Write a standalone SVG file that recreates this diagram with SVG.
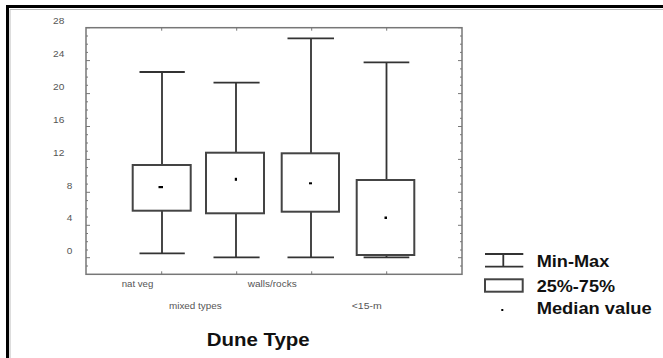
<svg xmlns="http://www.w3.org/2000/svg" width="663" height="358" viewBox="0 0 663 358">
<defs>
<style>
.frame{fill:none;stroke:#000;stroke-width:3}
.frame2{fill:none;stroke:#bbb;stroke-width:1}
.plot{fill:none;stroke:#777;stroke-width:1.5}
.tick{stroke:#777;stroke-width:1}
.box{fill:#fff;stroke:#444;stroke-width:2}
.wh{stroke:#333;stroke-width:1.8;fill:none}
.med{fill:#000}
.ylab{font-family:"Liberation Sans",Arial,sans-serif;font-size:9px;fill:#555}
.xlab{font-family:"Liberation Sans",Arial,sans-serif;font-size:8.8px;fill:#555}
.title{font-family:"Liberation Sans",Arial,sans-serif;font-size:18px;font-weight:bold;fill:#111}
.leg{font-family:"Liberation Sans",Arial,sans-serif;font-size:16.3px;font-weight:bold;fill:#111}
</style>
</defs>
<rect width="663" height="358" fill="#fff"/>
<g id="frame">
<polyline class="frame2" points="10,358 10,9.5 663,9.5"/>
<polyline class="frame" points="7.5,358 7.5,6.5 663,6.5"/>
</g>
<g id="plot-area">
<rect class="plot" x="86" y="27.7" width="376" height="246.6"/>
<g id="ticks">
<path class="tick" d="M86,27.7h4M86,36h2M86,44.2h2M86,52.4h2M86,60.6h4M86,68.9h2M86,77.1h2M86,85.3h2M86,93.6h4M86,101.8h2M86,110h2M86,118.3h2M86,126.5h4M86,134.7h2M86,143h2M86,151.2h2M86,159.4h4M86,167.6h2M86,175.9h2M86,184.1h2M86,192.3h4M86,200.6h2M86,208.8h2M86,217h2M86,225.3h4M86,233.5h2M86,241.7h2M86,250h2M86,257.7h4M86,266h2"/>
<path class="tick" d="M462,27.7h-4M462,36h-2M462,44.2h-2M462,52.4h-2M462,60.6h-4M462,68.9h-2M462,77.1h-2M462,85.3h-2M462,93.6h-4M462,101.8h-2M462,110h-2M462,118.3h-2M462,126.5h-4M462,134.7h-2M462,143h-2M462,151.2h-2M462,159.4h-4M462,167.6h-2M462,175.9h-2M462,184.1h-2M462,192.3h-4M462,200.6h-2M462,208.8h-2M462,217h-2M462,225.3h-4M462,233.5h-2M462,241.7h-2M462,250h-2M462,257.7h-4M462,266h-2"/>
<path class="tick" d="M161.7,27.7v3M236.7,27.7v3M311.7,27.7v3M386.7,27.7v3M161.7,274.3v-3M236.7,274.3v-3M311.7,274.3v-3M386.7,274.3v-3"/>
</g>
<g id="y-labels">
<text class="ylab" x="53" y="24" textLength="11.3" lengthAdjust="spacingAndGlyphs">28</text>
<text class="ylab" x="53" y="57.3" textLength="11.3" lengthAdjust="spacingAndGlyphs">24</text>
<text class="ylab" x="53" y="90.3" textLength="11.3" lengthAdjust="spacingAndGlyphs">20</text>
<text class="ylab" x="53" y="123.3" textLength="11.3" lengthAdjust="spacingAndGlyphs">16</text>
<text class="ylab" x="53" y="156.3" textLength="11.3" lengthAdjust="spacingAndGlyphs">12</text>
<text class="ylab" x="66.7" y="188.5" textLength="5.6" lengthAdjust="spacingAndGlyphs">8</text>
<text class="ylab" x="66.7" y="221.3" textLength="5.6" lengthAdjust="spacingAndGlyphs">4</text>
<text class="ylab" x="66.7" y="254" textLength="5.6" lengthAdjust="spacingAndGlyphs">0</text>
</g>
<g id="x-labels">
<text class="xlab" x="121.7" y="287" textLength="31.6" lengthAdjust="spacingAndGlyphs">nat veg</text>
<text class="xlab" x="247.7" y="287" textLength="49" lengthAdjust="spacingAndGlyphs">walls/rocks</text>
<text class="xlab" x="169" y="308.5" textLength="52.7" lengthAdjust="spacingAndGlyphs">mixed types</text>
<text class="xlab" x="351.7" y="308.5" textLength="30" lengthAdjust="spacingAndGlyphs">&lt;15-m</text>
</g>
<text id="x-title" class="title" x="206.7" y="346" textLength="103" lengthAdjust="spacingAndGlyphs">Dune Type</text>
</g>
<g id="connectors">
<path class="wh" d="M162,72V165M139.5,72H184.8M162,210.7V253.3M139.5,253.3H184.8"/>
<path class="wh" d="M236,82.7V152.7M213.5,82.7H259.6M236,213.3V257.3M213.5,257.3H259.6"/>
<path class="wh" d="M311,38.3V153.3M287.5,38.3H334M311,211.7V257.3M287.5,257.3H334"/>
<path class="wh" d="M386.5,62.3V180M363.6,62.3H409.3M386.5,255V257.3M363.6,257.3H409.3"/>
</g>
<g id="box-natveg">
<rect class="box" x="132.7" y="165" width="58" height="45.7"/>
<rect class="med" x="158.5" y="186" width="4.5" height="2.2"/>
</g>
<g id="box-mixed">
<rect class="box" x="206" y="152.7" width="58" height="60.6"/>
<rect class="med" x="234.8" y="177.8" width="2.2" height="3"/>
</g>
<g id="box-walls">
<rect class="box" x="281.7" y="153.3" width="57.3" height="58.4"/>
<rect class="med" x="309" y="182.3" width="3" height="2"/>
</g>
<g id="box-15m">
<rect class="box" x="356.7" y="180" width="57.6" height="75"/>
<rect class="med" x="384.5" y="216.5" width="2.5" height="2.5"/>
</g>
<g id="legend">
<path class="wh" d="M485,254H523.3M485,266.7H523.3M503.3,254V266.7"/>
<rect class="box" x="485" y="279.3" width="37.7" height="12.4"/>
<rect class="med" x="501.3" y="309" width="2" height="2"/>
<text class="leg" x="536.7" y="266.7" textLength="72.6" lengthAdjust="spacingAndGlyphs">Min-Max</text>
<text class="leg" x="536.7" y="291.7" textLength="78.3" lengthAdjust="spacingAndGlyphs">25%-75%</text>
<text class="leg" x="536.7" y="314" textLength="115" lengthAdjust="spacingAndGlyphs">Median value</text>
</g>
</svg>
